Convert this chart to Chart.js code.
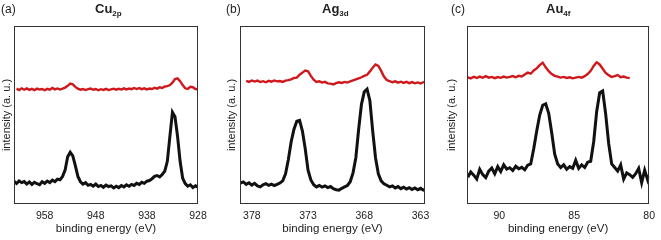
<!DOCTYPE html>
<html lang="en">
<head>
<meta charset="utf-8">
<title>XPS spectra</title>
<script src="https://cdn.jsdelivr.net/npm/chart.js"></script>
<style>
    body { margin: 0; background: #fff; font-family: "Liberation Sans", Arial, Helvetica, sans-serif; color: #222; }
    #wrap { position: relative; width: 661px; height: 240px; overflow: hidden; }
    canvas { position: absolute; top: 0; }
    .lbl { position: absolute; top: 2px; font-size: 12px; line-height: 15px; }
    .ttl { position: absolute; top: 1px; font-size: 13px; font-weight: bold; line-height: 16px; }
    .ttl sub { font-size: 8px; vertical-align: -3px; line-height: 0; }
</style>
</head>
<body>
<div id="wrap">
    <canvas id="cu" width="216" height="240" style="left:0px"></canvas>
    <canvas id="ag" width="214" height="240" style="left:225px"></canvas>
    <canvas id="au" width="216" height="240" style="left:445px"></canvas>
    <div class="lbl" style="left:1px">(a)</div>
    <div class="ttl" style="left:95px">Cu<sub>2p</sub></div>
    <div class="lbl" style="left:226px">(b)</div>
    <div class="ttl" style="left:322px">Ag<sub>3d</sub></div>
    <div class="lbl" style="left:451px">(c)</div>
    <div class="ttl" style="left:546px">Au<sub>4f</sub></div>
</div>

<script>
// Cu 2p
const cuEnergy = [
    964, 963.5, 963, 962.5, 962, 961.5, 961, 960.5, 960, 959.5,
    959, 958.5, 958, 957.5, 957, 956.5, 956, 955.5, 955, 954.5,
    954, 953.5, 953, 952.5, 952, 951.5, 951, 950.5, 950, 949.5,
    949, 948.5, 948, 947.5, 947, 946.5, 946, 945.5, 945, 944.5,
    944, 943.5, 943, 942.5, 942, 941.5, 941, 940.5, 940, 939.5,
    939, 938.5, 938, 937.5, 937, 936.5, 936, 935.5, 935, 934.5,
    934, 933.5, 933, 932.5, 932, 931.5, 931, 930.5, 930, 929.5,
    929, 928.5, 928
];
const cuBlack = [
    12.8, 11.5, 13.0, 12.0, 12.6, 11.2, 12.4, 11.0, 12.2, 11.4,
    10.8, 12.5, 11.6, 12.9, 12.0, 13.4, 12.6, 14.0, 13.6, 15.5,
    19.0, 26.5, 29.0, 27.0, 21.5, 15.5, 12.5, 11.2, 12.0, 10.5,
    11.0, 10.0, 11.2, 9.8, 10.4, 9.4, 10.6, 9.8, 10.2, 9.0,
    10.0, 9.2, 10.4, 9.6, 10.8, 10.0, 11.0, 10.4, 11.6, 11.0,
    12.2, 11.6, 12.8, 13.2, 14.2, 15.5, 16.0, 15.2, 16.6, 18.5,
    24.0, 38.0, 51.5, 49.0, 38.0, 24.0, 14.5, 11.5, 10.0, 10.8,
    9.2, 10.2, 9.4
];
const cuRed = [
    null, 64.8, 64.0, 65.0, 64.2, 64.9, 64.1, 64.7, 64.0, 64.8,
    64.3, 64.6, 63.9, 64.7, 64.2, 65.2, 64.4, 64.9, 64.3, 64.8,
    65.4, 66.4, 67.6, 67.2, 65.8, 64.8, 64.2, 64.6, 64.0, 64.5,
    64.9, 64.2, 64.6, 63.9, 64.5, 64.1, 64.7, 64.0, 64.4, 64.8,
    64.2, 64.7, 64.3, 65.0, 64.4, 64.9, 64.5, 65.2, 64.6, 65.1,
    64.5, 65.0, 64.4, 64.9, 64.6, 65.3, 64.8, 65.6, 65.2, 66.0,
    66.2, 66.8, 68.2, 70.2, 70.6, 69.0, 66.8, 65.0, 64.6, 65.8,
    65.6, 64.6, 64.4
];
const cuTicks = [958, 948, 938, 928];

// Ag 3d
const agEnergy = [
    379, 378.75, 378.5, 378.25, 378, 377.75, 377.5, 377.25, 377, 376.75,
    376.5, 376.25, 376, 375.75, 375.5, 375.25, 375, 374.75, 374.5, 374.25,
    374, 373.75, 373.5, 373.25, 373, 372.75, 372.5, 372.25, 372, 371.75,
    371.5, 371.25, 371, 370.75, 370.5, 370.25, 370, 369.75, 369.5, 369.25,
    369, 368.75, 368.5, 368.25, 368, 367.75, 367.5, 367.25, 367, 366.75,
    366.5, 366.25, 366, 365.75, 365.5, 365.25, 365, 364.75, 364.5, 364.25,
    364, 363.75, 363.5, 363.25, 363, 362.75, 362.5
];
const agBlack = [
    11.8, 12.4, 11.0, 11.9, 10.6, 11.6, 10.2, 9.6, 10.8, 11.4,
    10.5, 11.2, 10.4, 11.0, 11.8, 13.0, 17.0, 25.0, 35.0, 42.0,
    46.5, 47.0, 41.0, 31.0, 19.0, 13.5, 10.8, 9.6, 10.4, 9.5,
    10.2, 9.2, 9.8, 8.6, 8.0, 7.8, 8.8, 9.6, 10.4, 12.5,
    17.5, 26.0, 42.0, 56.0, 63.0, 64.5, 58.0, 41.0, 26.0, 17.0,
    13.0, 11.4, 10.5, 9.6, 10.2, 9.0, 9.8, 8.6, 9.4, 8.4,
    9.2, 8.2, 9.0, 8.0, 8.8, 7.8, 8.4
];
const agRed = [
    null, null, 69.2, 68.6, 69.4, 68.8, 69.3, 68.5, 69.0, 68.4,
    69.2, 68.7, 69.4, 68.9, 69.1, 68.6, 69.3, 69.6, 70.0, 70.8,
    71.0, 72.6, 73.8, 75.0, 74.6, 72.0, 69.8, 68.6, 68.9, 68.2,
    68.6, 67.8, 67.6, 67.2, 67.9, 68.4, 68.0, 68.6, 68.2, 68.9,
    69.4, 70.0, 70.6, 71.2, 72.0, 72.6, 74.5, 76.6, 78.4, 77.6,
    74.8, 71.6, 69.6, 69.0, 68.4, 68.9, 68.2, 68.7, 68.0, 68.6,
    67.9, 68.5, 67.8, 68.3, 67.7, 68.4, 69.1
];
const agTicks = [378, 373, 368, 363];

// Au 4f
const auEnergy = [
    92.1, 91.9, 91.7, 91.5, 91.3, 91.1, 90.9, 90.7, 90.5, 90.3,
    90.1, 89.9, 89.7, 89.5, 89.3, 89.1, 88.9, 88.7, 88.5, 88.3,
    88.1, 87.9, 87.7, 87.5, 87.3, 87.1, 86.9, 86.7, 86.5, 86.3,
    86.1, 85.9, 85.7, 85.5, 85.3, 85.1, 84.9, 84.7, 84.5, 84.3,
    84.1, 83.9, 83.7, 83.5, 83.3, 83.1, 82.9, 82.7, 82.5, 82.3,
    82.1, 81.9, 81.7, 81.5, 81.3, 81.1, 80.9, 80.7, 80.5, 80.3,
    80.1, 80.0
];
const auBlack = [
    15.0, 18.0, 16.2, 14.0, 19.5, 16.5, 14.8, 18.5, 20.2, 17.0,
    21.0, 18.2, 22.0, 19.6, 20.4, 18.8, 21.2, 19.8, 20.6, 19.2,
    21.8, 22.5, 31.0, 41.0, 50.0, 55.5, 56.3, 51.0, 40.0, 28.0,
    22.5, 20.5, 22.0, 19.5, 21.0, 20.0, 24.5, 20.0, 22.0, 20.5,
    23.5, 24.0, 35.0, 52.0, 62.5, 63.5, 50.5, 34.0, 22.5, 20.5,
    18.5, 22.0, 14.0, 17.5, 16.5, 15.0, 17.0, 20.0, 12.0, 19.0,
    13.5, 16.0
];
const auRed = [
    71.2, 70.6, 71.5, 70.8, 71.6, 70.9, 71.8, 71.0, 71.4, 70.7,
    71.3, 70.9, 71.6, 71.0, 71.4, 71.9, 71.2, 72.0, 71.6, 72.8,
    73.8, 73.2, 75.0, 76.2, 78.0, 79.4, 76.8, 74.6, 73.0, 72.0,
    71.6, 71.0, 71.4, 70.8, 71.2, 70.6, 71.0, 71.4, 71.0, 71.8,
    73.0, 74.8, 77.6, 79.6, 78.4, 76.0, 73.6, 72.4, 71.4, 71.8,
    72.4, 71.2, 71.6, 71.0, 70.8, null, null, null, null, null,
    null, null
];
const auTicks = [90, 85, 80];

const FONT = '"Liberation Sans", Arial, Helvetica, sans-serif';

// draws the closed frame round the plot area
const frame = {
    id: 'frame',
    afterDraw(chart) {
        const a = chart.chartArea;
        const ctx = chart.ctx;
        ctx.save();
        ctx.strokeStyle = '#333';
        ctx.lineWidth = 1;
        ctx.strokeRect(Math.round(a.left) + 0.5, Math.round(a.top) + 0.5,
            Math.round(a.right - a.left) - 1, Math.round(a.bottom - a.top) - 1);
        ctx.restore();
    }
};

function spectrum(id, energy, black, red, ticks, xmin, xmax, yWidth, rightPad) {
    const pts = (vals) => energy.map((e, i) => ({ x: e, y: vals[i] }));
    new Chart(document.getElementById(id), {
        type: 'line',
        data: {
            datasets: [
                { data: pts(red), borderColor: '#d0181c', borderWidth: 2.4, pointRadius: 0, tension: 0 },
                { data: pts(black), borderColor: '#111', borderWidth: 3, pointRadius: 0, tension: 0 }
            ]
        },
        options: {
            responsive: false,
            animation: false,
            devicePixelRatio: 1,
            layout: { padding: { top: 26, right: rightPad, left: 0, bottom: 0 } },
            plugins: { legend: { display: false }, tooltip: { enabled: false } },
            scales: {
                x: {
                    type: 'linear',
                    reverse: true,
                    min: xmin,
                    max: xmax,
                    afterBuildTicks: (s) => { s.ticks = ticks.map(v => ({ value: v })); },
                    afterFit: (s) => { s.height = 36; },
                    ticks: { font: { family: FONT, size: 10.5 }, color: '#222', padding: 6, maxRotation: 0, autoSkip: false },
                    grid: { display: false, drawTicks: false },
                    border: { display: false },
                    title: { display: true, text: 'binding energy (eV)', font: { family: FONT, size: 11.5 }, color: '#222', padding: { top: 0, bottom: 4 } }
                },
                y: {
                    min: 0,
                    max: 100,
                    afterFit: (s) => { s.width = yWidth; },
                    ticks: { display: false },
                    grid: { display: false, drawTicks: false },
                    border: { display: false },
                    title: { display: true, text: 'intensity (a. u.)', font: { family: FONT, size: 11 }, color: '#222', padding: 0 }
                }
            }
        },
        plugins: [frame]
    });
}

spectrum('cu', cuEnergy, cuBlack, cuRed, cuTicks, 928, 964, 14, 18);
spectrum('ag', agEnergy, agBlack, agRed, agTicks, 362.6, 379.05, 15, 14);
spectrum('au', auEnergy, auBlack, auRed, auTicks, 80, 92.15, 22, 7);
</script>
</body>
</html>
